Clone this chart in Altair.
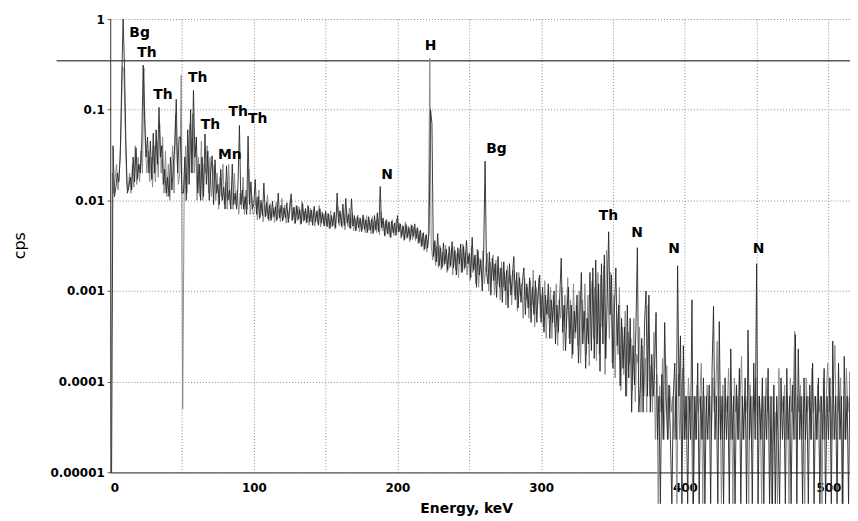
import altair as alt
import pandas as pd

# ---- dark trace: cps at whole keV (0 ... 515) ----
dark_000_049 = [
    0.00001, 0.00001, 0.04, 0.011, 0.014, 0.02, 0.016, 0.03, 0.19, 1.0,
    0.29, 0.04, 0.012, 0.014, 0.018, 0.013, 0.03, 0.016, 0.038, 0.017,
    0.025, 0.02, 0.045, 0.31, 0.08, 0.03, 0.05, 0.02, 0.045, 0.017,
    0.055, 0.02, 0.06, 0.025, 0.106, 0.03, 0.04, 0.015, 0.022, 0.012,
    0.018, 0.011, 0.03, 0.013, 0.025, 0.04, 0.13, 0.02, 0.05, 0.05,
]
dark_050_099 = [
    0.012, 0.012, 0.03, 0.01, 0.06, 0.015, 0.1, 0.02, 0.163, 0.03,
    0.05, 0.012, 0.025, 0.01, 0.03, 0.011, 0.054, 0.015, 0.035, 0.01,
    0.02, 0.031, 0.009, 0.028, 0.012, 0.015, 0.009, 0.022, 0.01, 0.014,
    0.008, 0.024, 0.01, 0.013, 0.008, 0.025, 0.009, 0.012, 0.008, 0.015,
    0.067, 0.009, 0.013, 0.008, 0.011, 0.007, 0.051, 0.009, 0.016, 0.008,
]
dark_100_149 = [
    0.009, 0.017, 0.007, 0.011, 0.0063, 0.01, 0.0068, 0.0155, 0.0066, 0.0095,
    0.0062, 0.0088, 0.006, 0.0098, 0.0066, 0.0085, 0.006, 0.012, 0.0064, 0.0088,
    0.0059, 0.0083, 0.0064, 0.0094, 0.0057, 0.0086, 0.0118, 0.0061, 0.0084, 0.0056,
    0.0087, 0.0062, 0.0079, 0.0055, 0.0092, 0.006, 0.0081, 0.0057, 0.0086, 0.0058,
    0.0078, 0.0053, 0.0086, 0.0058, 0.0077, 0.0053, 0.0081, 0.0056, 0.0072, 0.0052,
]
dark_150_199 = [
    0.0076, 0.0051, 0.0071, 0.0049, 0.0068, 0.0052, 0.0074, 0.005, 0.012, 0.0056,
    0.0077, 0.0052, 0.0091, 0.0053, 0.0105, 0.0056, 0.007, 0.0049, 0.0104, 0.0052,
    0.0068, 0.0046, 0.0066, 0.005, 0.0064, 0.0045, 0.0069, 0.0048, 0.0061, 0.0044,
    0.0066, 0.0047, 0.0062, 0.0043, 0.0068, 0.0047, 0.0073, 0.0045, 0.0142, 0.005,
    0.0064, 0.0041, 0.006, 0.0043, 0.0058, 0.0039, 0.0059, 0.0044, 0.0056, 0.0041,
]
dark_200_249 = [
    0.0068, 0.0045, 0.0055, 0.004, 0.0052, 0.0037, 0.0054, 0.0039, 0.005, 0.0037,
    0.0053, 0.004, 0.0055, 0.0038, 0.005, 0.0034, 0.0047, 0.0031, 0.0044, 0.0029,
    0.0042, 0.003, 0.0045, 0.1, 0.07, 0.0024, 0.0036, 0.0021, 0.0043, 0.0019,
    0.003, 0.0018, 0.0034, 0.002, 0.0029, 0.0017, 0.0031, 0.0019, 0.0035, 0.0018,
    0.0028, 0.0015, 0.003, 0.002, 0.0033, 0.0016, 0.0031, 0.0018, 0.0036, 0.002,
]
dark_250_299 = [
    0.0026, 0.0014, 0.0039, 0.0017, 0.0025, 0.0011, 0.0028, 0.0015, 0.0022, 0.001,
    0.0026, 0.027, 0.0016, 0.0012, 0.0027, 0.0009, 0.0023, 0.0013, 0.002, 0.00085,
    0.0024, 0.0011, 0.0018, 0.00075, 0.0021, 0.001, 0.0017, 0.00065, 0.002, 0.0009,
    0.0015, 0.0024, 0.0008, 0.0016, 0.00065, 0.0014, 0.00075, 0.0013, 0.0018, 0.00055,
    0.0012, 0.00065, 0.0014, 0.00045, 0.0011, 0.00055, 0.0013, 0.00045, 0.001, 0.0015,
]
dark_300_349 = [
    0.00045, 0.0011, 0.00035, 0.0009, 0.00055, 0.0012, 0.0003, 0.0008, 0.00045, 0.001,
    0.00026, 0.0007, 0.00035, 0.0009, 0.0023, 0.00035, 0.0007, 0.00022, 0.0006, 0.0011,
    0.00026, 0.0007, 0.0002, 0.0006, 0.00035, 0.0009, 0.00016, 0.0005, 0.0016, 0.00026,
    0.0006, 0.00014, 0.0005, 0.00026, 0.0016, 0.00022, 0.0018, 0.00018, 0.0022, 0.00026,
    0.0012, 0.00013, 0.002, 0.00026, 0.0025, 0.00018, 0.0008, 0.0045, 0.00055, 0.0015,
]
dark_350_399 = [
    0.00014, 0.0006, 0.0018, 0.00025, 0.0007, 0.00009, 0.0005, 0.00014, 0.0004, 0.000069,
    0.0007, 0.00011, 0.0005, 0.000046, 0.00025, 0.000092, 0.0004, 0.003, 0.000046, 0.00009,
    0.0003, 0.000046, 0.00045, 0.001, 0.000069, 0.0009, 0.000046, 0.0002, 0.000069, 0.00014,
    0.00058, 0.000023, 0.000069, 0.0000045, 0.00012, 0.000023, 0.00045, 0.000069, 0.000023, 0.000092,
    0.000023, 0.0000045, 0.000069, 0.00016, 0.000023, 0.0019, 0.000069, 0.00032, 0.0000045, 0.00025,
]
dark_400_449 = [
    0.000023, 0.000069, 0.0000045, 0.000069, 0.000023, 0.0008, 0.0000045, 0.000069, 0.000023, 0.00016,
    0.0000045, 0.000069, 0.000023, 0.00011, 0.0000045, 0.000069, 0.000023, 0.000092, 0.0000045, 0.00014,
    0.00068, 0.000023, 0.000069, 0.0000045, 0.00046, 0.000023, 0.000069, 0.0000045, 0.00011, 0.000023,
    0.000069, 0.0000045, 0.00023, 0.000023, 0.000069, 0.0000045, 0.000092, 0.000023, 0.00014, 0.0000045,
    0.000069, 0.000023, 0.00011, 0.0000045, 0.00037, 0.000023, 0.000069, 0.0000045, 0.00016, 0.000023,
]
dark_450_515 = [
    0.002, 0.0000045, 0.000069, 0.000023, 0.00011, 0.0000045, 0.000069, 0.000023, 0.00014, 0.0000045,
    0.000069, 0.0000045, 0.000092, 0.0000045, 0.000069, 0.000023, 0.0000045, 0.00011, 0.000023, 0.000069,
    0.0000045, 0.00014, 0.000023, 0.000069, 0.0000045, 0.000092, 0.000023, 0.00033, 0.0000045, 0.00023,
    0.000023, 0.000069, 0.0000045, 0.00011, 0.000023, 0.000069, 0.0000045, 0.000092, 0.000023, 0.00016,
    0.0000045, 0.000069, 0.000023, 0.00011, 0.0000045, 0.000069, 0.000023, 0.00014, 0.0000045, 0.000069,
    0.000023, 0.00011, 0.0000045, 0.00028, 0.000023, 0.000069, 0.0000045, 0.00016, 0.000023, 0.000069,
    0.0000045, 0.00019, 0.000023, 0.000069, 0.0000045, 0.00013,
]

# ---- grey trace: cps at half keV (0.5 ... 514.5) ----
grey_000_049 = [
    0.00001, 0.02, 0.012, 0.018, 0.025, 0.013, 0.022, 0.05, 0.3, 0.28,
    0.06, 0.015, 0.013, 0.02, 0.012, 0.025, 0.014, 0.04, 0.015, 0.03,
    0.016, 0.035, 0.02, 0.29, 0.04, 0.02, 0.035, 0.016, 0.03, 0.014,
    0.04, 0.016, 0.045, 0.018, 0.07, 0.02, 0.05, 0.012, 0.035, 0.011,
    0.025, 0.01, 0.02, 0.04, 0.012, 0.09, 0.03, 0.015, 0.02, 0.24,
]
grey_050_099 = [
    0.00005, 0.011, 0.04, 0.012, 0.035, 0.07, 0.02, 0.09, 0.02, 0.04,
    0.01, 0.03, 0.011, 0.045, 0.01, 0.025, 0.02, 0.04, 0.012, 0.03,
    0.011, 0.018, 0.025, 0.01, 0.02, 0.008, 0.018, 0.011, 0.025, 0.009,
    0.016, 0.008, 0.025, 0.009, 0.014, 0.008, 0.02, 0.009, 0.013, 0.007,
    0.012, 0.008, 0.018, 0.007, 0.013, 0.008, 0.022, 0.007, 0.011, 0.007,
]
grey_100_149 = [
    0.0075, 0.0105, 0.0061, 0.013, 0.0065, 0.0092, 0.0058, 0.0089, 0.0067, 0.0115,
    0.0059, 0.0093, 0.0064, 0.0082, 0.0057, 0.0096, 0.0062, 0.0081, 0.0058, 0.0105,
    0.0061, 0.0089, 0.0056, 0.0078, 0.0063, 0.0099, 0.0059, 0.0083, 0.0055, 0.0088,
    0.006, 0.0085, 0.0054, 0.0097, 0.0058, 0.0076, 0.0056, 0.0089, 0.0053, 0.0082,
    0.0057, 0.0079, 0.0052, 0.0074, 0.0056, 0.0088, 0.0051, 0.0075, 0.0055, 0.0071,
]
grey_150_199 = [
    0.0053, 0.0072, 0.0049, 0.0077, 0.0051, 0.0069, 0.0048, 0.0066, 0.0085, 0.0052,
    0.0072, 0.005, 0.0068, 0.0047, 0.0079, 0.0051, 0.0082, 0.0049, 0.0071, 0.0046,
    0.0063, 0.0048, 0.0069, 0.0045, 0.0061, 0.0047, 0.0065, 0.0044, 0.0068, 0.0046,
    0.006, 0.0043, 0.0066, 0.0045, 0.0059, 0.0044, 0.0063, 0.0042, 0.0075, 0.0046,
    0.0058, 0.004, 0.0062, 0.0042, 0.0057, 0.0039, 0.0061, 0.0041, 0.0055, 0.0062,
]
grey_200_249 = [
    0.0044, 0.0056, 0.0038, 0.0053, 0.0036, 0.0058, 0.0038, 0.0052, 0.0035, 0.0054,
    0.0037, 0.0051, 0.0036, 0.0049, 0.0033, 0.0046, 0.0031, 0.0043, 0.0028, 0.0041,
    0.0027, 0.0038, 0.37, 0.0032, 0.0022, 0.0034, 0.0019, 0.0031, 0.0018, 0.0032,
    0.0017, 0.0027, 0.0019, 0.0032, 0.0016, 0.0026, 0.0018, 0.0029, 0.0015, 0.0031,
    0.0017, 0.0026, 0.0014, 0.0029, 0.0016, 0.0033, 0.0017, 0.0027, 0.0015, 0.0024,
]
grey_250_299 = [
    0.0013, 0.0031, 0.0016, 0.0024, 0.0012, 0.0029, 0.0011, 0.0023, 0.0014, 0.0028,
    0.0012, 0.0019, 0.0026, 0.001, 0.0021, 0.0013, 0.0025, 0.0009, 0.0022, 0.0012,
    0.0018, 0.0008, 0.0021, 0.0011, 0.0016, 0.0007, 0.0019, 0.0012, 0.0015, 0.0007,
    0.0017, 0.0009, 0.0013, 0.0006, 0.0016, 0.0009, 0.0012, 0.0005, 0.0014, 0.0008,
    0.0011, 0.0005, 0.0013, 0.0007, 0.0017, 0.0004, 0.0011, 0.0007, 0.0014, 0.0005,
]
grey_300_349 = [
    0.0009, 0.0004, 0.0013, 0.0003, 0.0008, 0.0005, 0.0011, 0.0003, 0.0009, 0.0004,
    0.0012, 0.00025, 0.0008, 0.0005, 0.0011, 0.00022, 0.0009, 0.0004, 0.0014, 0.0003,
    0.0008, 0.00018, 0.0012, 0.0003, 0.0007, 0.00025, 0.001, 0.00016, 0.0008, 0.0004,
    0.0012, 0.0002, 0.0009, 0.00015, 0.0007, 0.0013, 0.0003, 0.0011, 0.00017, 0.0016,
    0.0002, 0.0015, 0.0004, 0.0019, 0.00012, 0.0028, 0.0011, 0.0003, 0.0016, 0.00016,
]
grey_350_399 = [
    0.0009, 0.00011, 0.0006, 0.0002, 0.0011, 0.00008, 0.0004, 0.00012, 0.0006, 0.000069,
    0.00035, 0.00016, 0.0003, 0.00008, 0.0005, 0.00006, 0.0002, 0.00016, 0.0004, 0.000046,
    0.00025, 0.000069, 0.00018, 0.000046, 0.0007, 0.000069, 0.00015, 0.000046, 0.00035, 0.000023,
    0.00012, 0.0000045, 0.00009, 0.000046, 0.00018, 0.000023, 0.000069, 0.00015, 0.000023, 0.00009,
    0.000046, 0.000069, 0.000023, 0.000069, 0.0000045, 0.00012, 0.000023, 0.000069, 0.00014, 0.000023,
]
grey_400_449 = [
    0.000069, 0.000023, 0.00011, 0.000046, 0.000069, 0.0000045, 0.000069, 0.000023, 0.000092, 0.000046,
    0.000069, 0.00016, 0.0000045, 0.000069, 0.000023, 0.000092, 0.000046, 0.000069, 0.000023, 0.00011,
    0.000046, 0.000069, 0.00028, 0.000023, 0.000069, 0.0000045, 0.000092, 0.000023, 0.000069, 0.000046,
    0.00014, 0.000023, 0.000069, 0.0000045, 0.00011, 0.000046, 0.000069, 0.000023, 0.000069, 0.00019,
    0.000023, 0.000069, 0.000046, 0.000069, 0.0000045, 0.000092, 0.000023, 0.000069, 0.000046, 0.00011,
]
grey_450_514 = [
    0.000023, 0.000069, 0.000046, 0.0000045, 0.000069, 0.000023, 0.00011, 0.000046, 0.000069, 0.000023,
    0.0000045, 0.000069, 0.000023, 0.000046, 0.0000045, 0.00014, 0.000023, 0.000069, 0.000046, 0.000092,
    0.000023, 0.000069, 0.0000045, 0.00011, 0.000046, 0.000069, 0.00036, 0.000023, 0.000069, 0.000046,
    0.000092, 0.000023, 0.000069, 0.0000045, 0.00011, 0.000046, 0.000069, 0.000023, 0.00014, 0.000046,
    0.000069, 0.000023, 0.000092, 0.000046, 0.000069, 0.0000045, 0.00011, 0.000023, 0.000069, 0.00016,
    0.000046, 0.000069, 0.000023, 0.000092, 0.00025, 0.000023, 0.000069, 0.000046, 0.00011, 0.0000045,
    0.000069, 0.000023, 0.00014, 0.000046, 0.000069,
]

# ---- peak annotations ----
peak_labels = ["Bg", "Th", "Th", "Th", "Th", "Mn", "Th", "Th", "N", "H", "Bg", "Th", "N", "N", "N"]
peak_energy = [20.5, 25.6, 36.8, 61.0, 69.8, 83.3, 89.1, 102.7, 192.7, 223.0, 268.9, 346.9, 366.7, 392.5, 451.4]
peak_cps = [0.698, 0.421, 0.145, 0.221, 0.068, 0.0319, 0.0953, 0.078, 0.019, 0.51, 0.0372, 0.00665, 0.00436, 0.00287, 0.00287]

# ---- horizontal reference level ----
reference_level = [0.347]

# ---- axis ticks ----
x_ticks = [0, 50, 100, 150, 200, 250, 300, 350, 400, 450, 500]
y_ticks = [0.00001, 0.0001, 0.001, 0.01, 0.1, 1]

dark = (dark_000_049 + dark_050_099 + dark_100_149 + dark_150_199 + dark_200_249
        + dark_250_299 + dark_300_349 + dark_350_399 + dark_400_449 + dark_450_515)
grey = (grey_000_049 + grey_050_099 + grey_100_149 + grey_150_199 + grey_200_249
        + grey_250_299 + grey_300_349 + grey_350_399 + grey_400_449 + grey_450_514)

dark_df = pd.DataFrame({"energy": [float(i) for i in range(len(dark))], "cps": dark})
grey_df = pd.DataFrame({"energy": [i + 0.5 for i in range(len(grey))], "cps": grey})
peaks = pd.DataFrame({"energy": peak_energy, "cps": peak_cps, "label": peak_labels})
level = pd.DataFrame({"level": reference_level})

W, H = 746, 457
x_scale = alt.Scale(domain=[0, 515], nice=False, zero=False)
y_scale = alt.Scale(type="log", domain=[0.00001, 1], nice=False)

x_axis = alt.Axis(
    values=x_ticks, grid=True, format="d",
    labelExpr="datum.value % 100 == 0 ? datum.label : ''",
    tickSize=0, labelPadding=10,
    title="Energy, keV", titleX=359, titleY=37, titleBaseline="middle",
    titleFont="DejaVu Sans", titleFontWeight="bold", titleFontSize=14,
)
y_axis = alt.Axis(
    values=y_ticks, grid=True, format=".5~f",
    tickSize=3, labelPadding=3,
    title="cps", titleAngle=270, titleX=-91, titleY=228, titleBaseline="middle",
    titleFont="DejaVu Sans", titleFontWeight="normal", titleFontSize=16,
)

rule = alt.Chart(level).mark_rule(color="#5a5a5a", strokeWidth=1.5).encode(
    y=alt.Y("level:Q", scale=y_scale, axis=y_axis),
    x=alt.value(-54), x2=alt.value(W),
)

grey_line = alt.Chart(grey_df).mark_line(color="#8c8c8c", strokeWidth=1.0, clip=False).encode(
    x=alt.X("energy:Q", scale=x_scale, axis=x_axis),
    y=alt.Y("cps:Q", scale=y_scale, axis=y_axis),
)

dark_line = alt.Chart(dark_df).mark_line(color="#262626", strokeWidth=0.9, clip=False).encode(
    x=alt.X("energy:Q", scale=x_scale, axis=x_axis),
    y=alt.Y("cps:Q", scale=y_scale, axis=y_axis),
)

text = alt.Chart(peaks).mark_text(
    font="DejaVu Sans", fontWeight="bold", fontSize=14, color="black",
    align="center", baseline="middle",
).encode(
    x=alt.X("energy:Q", scale=x_scale),
    y=alt.Y("cps:Q", scale=y_scale),
    text="label:N",
)

chart = alt.layer(rule, grey_line, dark_line, text).properties(
    width=W, height=H,
    autosize=alt.AutoSizeParams(type="none"),
    padding={"left": 103, "top": 9, "right": 0, "bottom": 50},
).configure_view(stroke=None).configure_axis(
    labelFont="DejaVu Sans", labelFontWeight="bold", labelFontSize=12, labelColor="black",
    domainColor="#555555", domainWidth=1.2, tickColor="#555555",
    gridColor="#8a8a8a", gridDash=[1, 2], gridWidth=1, gridOpacity=1,
    titleColor="black",
)

chart.save("out.html", embed_options={"renderer": "svg", "actions": False})
